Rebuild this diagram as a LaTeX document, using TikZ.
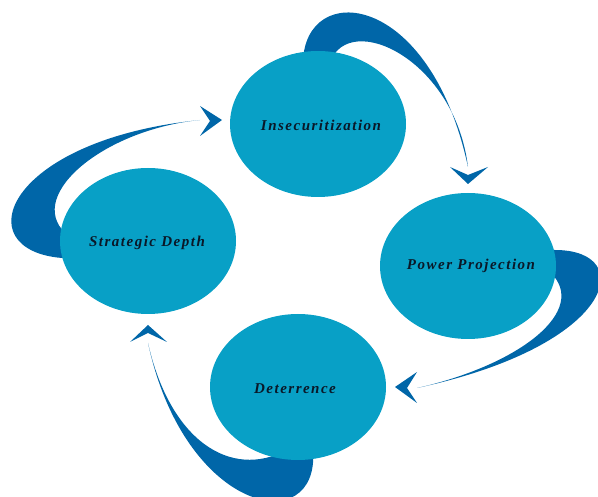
\documentclass[tikz,border=0pt]{standalone}
\usepackage{fontspec}
\usetikzlibrary{shapes.geometric}
\newfontfamily\lblfont[LetterSpace=10]{Liberation Serif}
\definecolor{bubble}{RGB}{8,160,198}
\definecolor{swoosh}{RGB}{0,102,168}
\definecolor{ink}{RGB}{10,24,40}
\tikzset{
  bubblenode/.style={ellipse, fill=bubble, minimum width=176pt, minimum height=146pt, inner sep=0pt,
    font=\lblfont\bfseries\itshape\fontsize{15}{18}\selectfont, text=ink},
  swooshfill/.style={fill=swoosh, draw=none},
}
\begin{document}
\begin{tikzpicture}[x=1pt,y=-1pt]
\useasboundingbox (0,0) rectangle (598,497);
% swooshes (behind the bubbles)
\fill[swooshfill] (303,62) .. controls (305,-20) and (430,-10) .. (468,167)
  .. controls (455,60) and (350,10) .. (330,62) -- cycle;
\fill[swooshfill] (450,167) -- (468,184) -- (488,167) -- (468,175) -- cycle;
\fill[swooshfill] (548,250) -- (555,250) .. controls (638,250) and (617,345) .. (417,388)
  .. controls (520,365) and (590,310) .. (550,272) -- cycle;
\fill[swooshfill] (395,387) -- (417,372) -- (407,388) -- (417,403) -- cycle;
\fill[swooshfill] (313,450) .. controls (320,540) and (185,515) .. (148,343)
  .. controls (170,440) and (230,480) .. (287,450) -- cycle;
\fill[swooshfill] (148,325) -- (130,342) -- (148,333) -- (167,342) -- cycle;
\fill[swooshfill] (70,258) -- (62,258) .. controls (-35,250) and (5,140) .. (200,120)
  .. controls (100,130) and (20,200) .. (70,237) -- cycle;
\fill[swooshfill] (222,120) -- (200,106) -- (210,121) -- (200,136) -- cycle;
% bubbles
\node[bubblenode] (ins) at (318,124) {};
\node[bubblenode] (sd)  at (148,241) {};
\node[bubblenode] (pp)  at (468,266) {};
\node[bubblenode] (det) at (298,387) {};
\node[bubblenode, fill=none] (insl) at (321,125) {Insecuritization};
\node[bubblenode, fill=none] (sdl)  at (147,243) {Strategic Depth};
\node[bubblenode, fill=none] (ppl)  at (471,266) {Power Projection};
\node[bubblenode, fill=none] (detl) at (295,389) {Deterrence};
\end{tikzpicture}
\end{document}
